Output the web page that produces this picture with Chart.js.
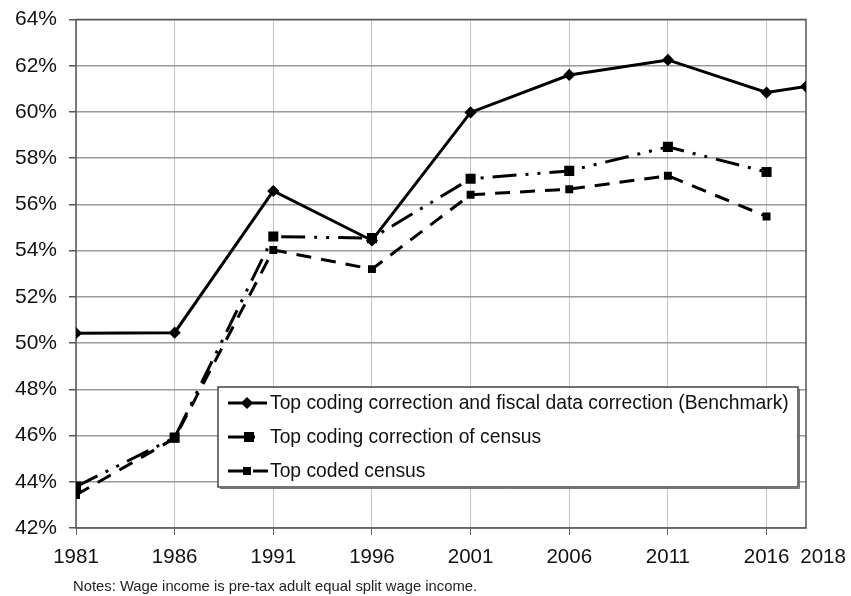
<!DOCTYPE html>
<html>
<head>
<meta charset="utf-8">
<script src="https://cdn.jsdelivr.net/npm/chart.js@4.4.1/dist/chart.umd.min.js"></script>
<style>
  html, body { margin: 0; padding: 0; background: #fff; }
  #wrap { position: relative; width: 851px; height: 596px; }
  #c { position: absolute; left: 0; top: 0; }
  #note { position: absolute; left: 73px; top: 578px; font: 14.8px "Liberation Sans", Arial, sans-serif; color: #222; white-space: nowrap; }
</style>
</head>
<body>
<div id="wrap">
  <canvas id="c" width="851" height="596"></canvas>
  <div id="note">Notes: Wage income is pre-tax adult equal split wage income.</div>
</div>
<script>
const years = [1981, 1986, 1991, 1996, 2001, 2006, 2011, 2016, 2018];
const benchmark = [50.43, 50.45, 56.58, 54.44, 59.98, 61.60, 62.25, 60.84, 61.10];
const topCodingCorrection = [43.79, 45.91, 54.61, 54.54, 57.11, 57.45, 58.49, 57.40, null];
const topCodedCensus = [43.43, 45.88, 54.03, 53.20, 56.42, 56.66, 57.24, 55.48, null];
const xTickValues = [1981, 1986, 1991, 1996, 2001, 2006, 2011, 2016, 2018];
const seriesLabels = [
  'Top coding correction and fiscal data correction (Benchmark)',
  'Top coding correction of census',
  'Top coded census'
];

const FONT = '"Liberation Sans", Arial, sans-serif';

function toPoints(vals) {
  const out = [];
  vals.forEach((v, i) => { if (v !== null) out.push({ x: years[i], y: v }); });
  return out;
}

const frameAndLegend = {
  id: 'frameAndLegend',
  beforeDatasetsDraw(chart) {
    const { ctx, chartArea: a } = chart;
    ctx.save();
    ctx.strokeStyle = '#555';
    ctx.lineWidth = 1.5;
    ctx.setLineDash([]);
    ctx.strokeRect(a.left, a.top, a.right - a.left, a.bottom - a.top);
    ctx.restore();
  },
  afterDatasetsDraw(chart) {
    const ctx = chart.ctx;
    const bx = 218, by = 387, bw = 580, bh = 100;
    ctx.save();
    ctx.fillStyle = '#fff';
    ctx.fillRect(bx, by, bw, bh);
    ctx.strokeStyle = '#444';
    ctx.lineWidth = 1.5;
    ctx.setLineDash([]);
    ctx.strokeRect(bx, by, bw, bh);
    ctx.strokeStyle = '#777';
    ctx.lineWidth = 1;
    ctx.beginPath();
    ctx.moveTo(bx + bw + 1.5, by + 2);
    ctx.lineTo(bx + bw + 1.5, by + bh + 1.5);
    ctx.lineTo(bx + 2, by + bh + 1.5);
    ctx.stroke();
    const rows = [403, 437, 471];
    const lineEnds = [267, 255, 268];
    const pointX = [247, 249, 247];
    chart.data.datasets.forEach((ds, i) => {
      const y = rows[i];
      ctx.strokeStyle = '#000';
      ctx.lineWidth = ds.borderWidth;
      ctx.setLineDash(i === 2 ? [17, 8] : []);
      ctx.beginPath();
      ctx.moveTo(228, y);
      ctx.lineTo(lineEnds[i], y);
      ctx.stroke();
      ctx.setLineDash([]);
      Chart.helpers.drawPoint(ctx, {
        pointStyle: ds.pointStyle, radius: ds.pointRadius, rotation: 0, borderWidth: 1
      }, pointX[i], y);
      ctx.fillStyle = '#000';
      ctx.fill();
      ctx.fillStyle = '#111';
      ctx.font = '19.3px ' + FONT;
      ctx.textBaseline = 'middle';
      ctx.textAlign = 'left';
      ctx.fillText(ds.label, 270, y + 1);
    });
    ctx.restore();
  }
};

new Chart(document.getElementById('c'), {
  type: 'line',
  data: {
    datasets: [
      {
        label: seriesLabels[0],
        data: toPoints(benchmark),
        borderColor: '#000', backgroundColor: '#000',
        borderWidth: 3, pointStyle: 'rectRot', pointRadius: 4,
        pointBackgroundColor: '#000', pointBorderColor: '#000',
        order: 0
      },
      {
        label: seriesLabels[1],
        data: toPoints(topCodingCorrection),
        borderColor: '#000', backgroundColor: '#000',
        borderWidth: 3, borderDash: [24, 9, 3, 9, 3, 9], pointStyle: 'rect', pointRadius: 5,
        pointBackgroundColor: '#000', pointBorderColor: '#000',
        order: 1
      },
      {
        label: seriesLabels[2],
        data: toPoints(topCodedCensus),
        borderColor: '#000', backgroundColor: '#000',
        borderWidth: 3, borderDash: [15, 10], pointStyle: 'rect', pointRadius: 3.5,
        pointBackgroundColor: '#000', pointBorderColor: '#000',
        order: 2
      }
    ]
  },
  options: {
    responsive: false,
    animation: false,
    layout: { padding: { top: 19.5, right: 45, left: 0, bottom: 0 } },
    plugins: { legend: { display: false }, tooltip: { enabled: false }, title: { display: false } },
    elements: { line: { tension: 0 } },
    scales: {
      x: {
        type: 'linear', min: 1981, max: 2018,
        afterBuildTicks(scale) { scale.ticks = xTickValues.map(v => ({ value: v })); },
        afterFit(scale) { scale.height = 68; scale.paddingLeft = 0; scale.paddingRight = 0; },
        ticks: {
          autoSkip: false, maxRotation: 0, padding: 10,
          color: '#111', font: { family: FONT, size: 20.5 },
          callback: v => (v === 2018 ? '      ' + v : String(v))
        },
        grid: {
          color: ctx => (ctx.tick && ctx.tick.value === 2018) ? 'rgba(0,0,0,0)' : '#8a8a8a',
          tickColor: ctx => (ctx.tick && ctx.tick.value === 2018) ? 'rgba(0,0,0,0)' : '#666',
          lineWidth: 1, tickLength: 7
        },
        border: { display: false, dash: [1, 1] }
      },
      y: {
        min: 42, max: 64,
        afterFit(scale) { scale.width = 76; scale.paddingTop = 0; scale.paddingBottom = 0; },
        ticks: {
          stepSize: 2, padding: 12,
          color: '#111', font: { family: FONT, size: 21 },
          callback: v => v + '%'
        },
        grid: { color: '#9a9a9a', tickColor: '#555', lineWidth: 1.5, tickLength: 7 },
        border: { display: false }
      }
    }
  },
  plugins: [frameAndLegend]
});
</script>
</body>
</html>
